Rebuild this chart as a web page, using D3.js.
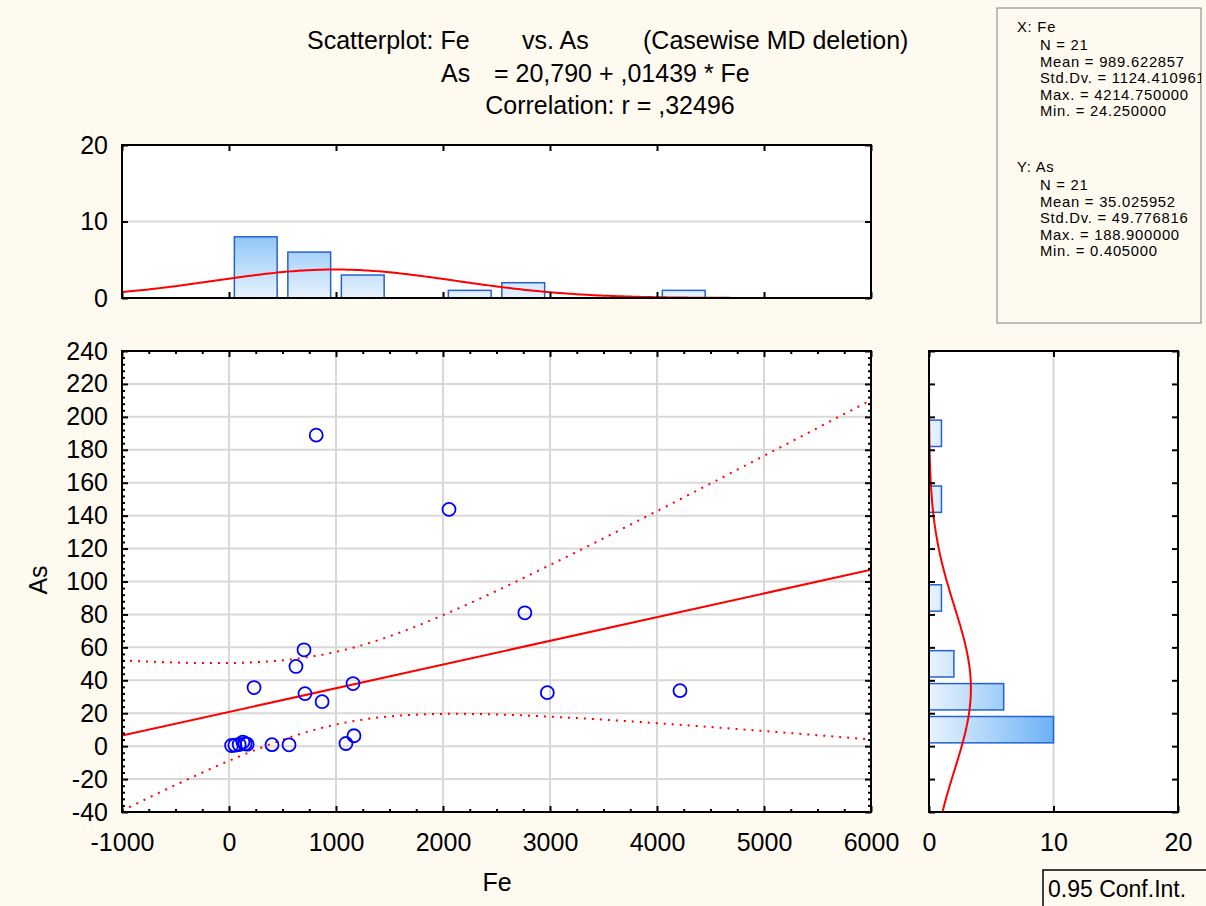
<!DOCTYPE html>
<html><head><meta charset="utf-8">
<script src="https://cdn.jsdelivr.net/npm/d3@7"></script>
<style>
body{margin:0;background:#fffaf0}
svg{display:block}
text{font-family:"Liberation Sans",Arial,sans-serif;fill:#000}
</style>
</head><body><svg id="c" width="1206" height="906"></svg>
<script>
// ---------- data ----------
const feValues = [24.25, 55, 95, 130, 150, 170, 234, 402, 561, 626, 701, 710, 815, 870, 1093, 1159, 1168, 2056, 2765, 2975, 4214.75];
const asValues = [0.405, 0.6, 1.0, 2.5, 1.5, 1.2, 35.6, 0.9, 0.8, 48.4, 58.5, 31.9, 188.9, 27.0, 1.6, 38.0, 6.3, 143.8, 81.0, 32.5, 33.7];
const feBinStarts = [0, 500, 1000, 1500, 2000, 2500, 3000, 3500, 4000];
const feBinCounts = [8, 6, 3, 0, 1, 2, 0, 0, 1];
const feBinWidth = 500;
const asBinStarts = [0, 20, 40, 60, 80, 100, 120, 140, 160, 180];
const asBinCounts = [10, 6, 2, 0, 1, 0, 0, 1, 0, 1];
const asBinWidth = 20;
const xTicks = [-1000, 0, 1000, 2000, 3000, 4000, 5000, 6000];
const yTicks = [-40, -20, 0, 20, 40, 60, 80, 100, 120, 140, 160, 180, 200, 220, 240];
const countTicks = [0, 10, 20];
const regIntercept = 20.790, regSlope = 0.01439;
const statN = 21, feMean = 989.622857, feSd = 1124.41096, asMean = 35.025952, asSd = 49.776816, corrR = 0.32496;
const tCrit = 2.093;
const titleLine1 = ["Scatterplot: Fe", "vs. As", "(Casewise MD deletion)"];
const titleLine2 = ["As", "= 20,790 + ,01439 * Fe"];
const titleLine3 = "Correlation: r = ,32496";
const statsX = ["X:  Fe", "N = 21", "Mean = 989.622857", "Std.Dv. = 1124.410961", "Max. = 4214.750000", "Min. = 24.250000"];
const statsY = ["Y:  As", "N = 21", "Mean = 35.025952", "Std.Dv. = 49.776816", "Max. = 188.900000", "Min. = 0.405000"];
const xLabel = "Fe", yLabel = "As", ciLabel = "0.95 Conf.Int.";

// ---------- layout ----------
const svg = d3.select("#c");
const M = {l: 122, r: 871, t: 351, b: 812};
const TH = {t: 145, b: 298};
const RH = {l: 929, r: 1178};
const x = d3.scaleLinear([-1000, 6000], [M.l, M.r]);
const y = d3.scaleLinear([-40, 240], [M.b, M.t]);
const ty = d3.scaleLinear([0, 20], [TH.b, TH.t]);
const rx = d3.scaleLinear([0, 20], [RH.l, RH.r]);
const gridCol = "#d8d8d8";
const fs = 25;
const fmt = d => String(d);

svg.append("rect").attr("width", 1206).attr("height", 906).attr("fill", "#fffaf0");
const defs = svg.append("defs");
function clip(id, x0, y0, w, h) {
  defs.append("clipPath").attr("id", id).append("rect").attr("x", x0).attr("y", y0).attr("width", w).attr("height", h);
}
clip("cm", M.l, M.t, M.r - M.l, M.b - M.t);
clip("ct", M.l, TH.t, M.r - M.l, TH.b - TH.t);
clip("cr", RH.l, M.t, RH.r - RH.l, M.b - M.t);
clip("cs", 997, 8, 204, 315);

const gt = defs.append("linearGradient").attr("id", "gt").attr("gradientUnits", "userSpaceOnUse")
  .attr("x1", 0).attr("x2", 0).attr("y1", ty(0)).attr("y2", ty(8.5));
gt.append("stop").attr("offset", 0).attr("stop-color", "#e8f3fe");
gt.append("stop").attr("offset", 1).attr("stop-color", "#8cc4f7");
const gr = defs.append("linearGradient").attr("id", "gr").attr("gradientUnits", "userSpaceOnUse")
  .attr("y1", 0).attr("y2", 0).attr("x1", rx(0)).attr("x2", rx(10));
gr.append("stop").attr("offset", 0).attr("stop-color", "#e8f3fe");
gr.append("stop").attr("offset", 1).attr("stop-color", "#6cb3f5");

// ---------- panels ----------
function panel(x0, y0, x1, y1) {
  svg.append("rect").attr("x", x0).attr("y", y0).attr("width", x1 - x0).attr("height", y1 - y0).attr("fill", "#fff");
}
panel(M.l, M.t, M.r, M.b);
panel(M.l, TH.t, M.r, TH.b);
panel(RH.l, M.t, RH.r, M.b);

// grids
const grid = svg.append("g").attr("stroke", gridCol).attr("stroke-width", 2);
grid.selectAll(".gx").data(xTicks.filter(d => d > -1000 && d < 6000)).join("line")
  .attr("x1", d => x(d)).attr("x2", d => x(d)).attr("y1", M.t).attr("y2", M.b);
grid.selectAll(".gy").data(yTicks.filter(d => d > -40 && d < 240)).join("line")
  .attr("x1", M.l).attr("x2", M.r).attr("y1", d => y(d)).attr("y2", d => y(d));
grid.append("line").attr("x1", M.l).attr("x2", M.r).attr("y1", ty(10)).attr("y2", ty(10));
grid.append("line").attr("x1", rx(10)).attr("x2", rx(10)).attr("y1", M.t).attr("y2", M.b);

// ---------- top histogram ----------
const gTop = svg.append("g").attr("clip-path", "url(#ct)");
const fePairs = feBinStarts.map((s, i) => ({s, c: feBinCounts[i]})).filter(d => d.c > 0);
gTop.selectAll("rect").data(fePairs).join("rect")
  .attr("x", d => x(d.s + feBinWidth * 0.1)).attr("width", d => x(d.s + feBinWidth * 0.9) - x(d.s + feBinWidth * 0.1))
  .attr("y", d => ty(d.c)).attr("height", d => ty(0) - ty(d.c))
  .attr("fill", "url(#gt)").attr("stroke", "#2462d2").attr("stroke-width", 1.5);
const normFe = v => statN * feBinWidth / (feSd * Math.sqrt(2 * Math.PI)) * Math.exp(-0.5 * ((v - feMean) / feSd) ** 2);
const feCurve = d3.range(-1000, 6001, 25);
gTop.append("path").attr("d", d3.line().x(v => x(v)).y(v => ty(normFe(v)))(feCurve))
  .attr("fill", "none").attr("stroke", "#ff0000").attr("stroke-width", 2);

// ---------- right histogram ----------
const gR = svg.append("g").attr("clip-path", "url(#cr)");
const asPairs = asBinStarts.map((s, i) => ({s, c: asBinCounts[i]})).filter(d => d.c > 0);
gR.selectAll("rect").data(asPairs).join("rect")
  .attr("y", d => y(d.s + asBinWidth * 0.9)).attr("height", d => y(d.s + asBinWidth * 0.1) - y(d.s + asBinWidth * 0.9))
  .attr("x", rx(0)).attr("width", d => rx(d.c) - rx(0))
  .attr("fill", "url(#gr)").attr("stroke", "#2462d2").attr("stroke-width", 1.5);
const normAs = v => statN * asBinWidth / (asSd * Math.sqrt(2 * Math.PI)) * Math.exp(-0.5 * ((v - asMean) / asSd) ** 2);
const asCurve = d3.range(-40, 240.1, 2);
gR.append("path").attr("d", d3.line().x(v => rx(normAs(v))).y(v => y(v))(asCurve))
  .attr("fill", "none").attr("stroke", "#ff0000").attr("stroke-width", 2);

// ---------- main scatter ----------
const gM = svg.append("g").attr("clip-path", "url(#cm)");
const Sxx = (statN - 1) * feSd * feSd;
const sRes = asSd * Math.sqrt((1 - corrR * corrR) * (statN - 1) / (statN - 2));
const fit = v => regIntercept + regSlope * v;
const half = v => tCrit * sRes * Math.sqrt(1 / statN + (v - feMean) ** 2 / Sxx);
const band = d3.range(-1000, 6001, 25);
gM.append("path").attr("d", d3.line().x(v => x(v)).y(v => y(fit(v) + half(v)))(band))
  .attr("fill", "none").attr("stroke", "#ff0000").attr("stroke-width", 2).attr("stroke-dasharray", "2 6");
gM.append("path").attr("d", d3.line().x(v => x(v)).y(v => y(fit(v) - half(v)))(band))
  .attr("fill", "none").attr("stroke", "#ff0000").attr("stroke-width", 2).attr("stroke-dasharray", "2 6");
gM.append("line").attr("x1", x(-1000)).attr("x2", x(6000)).attr("y1", y(fit(-1000))).attr("y2", y(fit(6000)))
  .attr("stroke", "#ff0000").attr("stroke-width", 2);
gM.selectAll("circle").data(feValues.map((f, i) => [f, asValues[i]])).join("circle")
  .attr("cx", d => x(d[0])).attr("cy", d => y(d[1])).attr("r", 6.5)
  .attr("fill", "none").attr("stroke", "#0000ff").attr("stroke-width", 1.8);

// ---------- axes ----------
function styleAxis(g) {
  g.select(".domain").remove();
  g.selectAll(".tick line").attr("stroke", "#000").attr("stroke-width", 2);
  g.selectAll("text").attr("font-size", fs).attr("font-family", "Liberation Sans, Arial, sans-serif");
}
const xMinor = d3.range(-1000, 6001, 250).filter(v => v % 1000 !== 0);
const yMinor = d3.range(-40, 241, 4).filter(v => v % 20 !== 0);
// main
svg.append("g").attr("transform", `translate(0,${M.b})`).call(d3.axisBottom(x).tickValues(xMinor).tickSize(-3).tickFormat("")).call(styleAxis);
svg.append("g").attr("transform", `translate(0,${M.b})`).call(d3.axisBottom(x).tickValues(xTicks).tickSize(-6).tickPadding(21).tickFormat(fmt)).call(styleAxis);
svg.append("g").attr("transform", `translate(0,${M.t})`).call(d3.axisTop(x).tickValues(xMinor).tickSize(-3).tickFormat("")).call(styleAxis);
svg.append("g").attr("transform", `translate(0,${M.t})`).call(d3.axisTop(x).tickValues(xTicks).tickSize(-6).tickFormat("")).call(styleAxis);
svg.append("g").attr("transform", `translate(${M.l},0)`).call(d3.axisLeft(y).tickValues(yMinor).tickSize(-3).tickFormat("")).call(styleAxis);
svg.append("g").attr("transform", `translate(${M.l},0)`).call(d3.axisLeft(y).tickValues(yTicks).tickSize(-6).tickPadding(14).tickFormat(fmt)).call(styleAxis);
svg.append("g").attr("transform", `translate(${M.r},0)`).call(d3.axisRight(y).tickValues(yMinor).tickSize(-3).tickFormat("")).call(styleAxis);
svg.append("g").attr("transform", `translate(${M.r},0)`).call(d3.axisRight(y).tickValues(yTicks).tickSize(-6).tickFormat("")).call(styleAxis);
// top hist
svg.append("g").attr("transform", `translate(0,${TH.b})`).call(d3.axisBottom(x).tickValues(xTicks).tickSize(-6).tickFormat("")).call(styleAxis);
svg.append("g").attr("transform", `translate(0,${TH.t})`).call(d3.axisTop(x).tickValues(xTicks).tickSize(-6).tickFormat("")).call(styleAxis);
svg.append("g").attr("transform", `translate(${M.l},0)`).call(d3.axisLeft(ty).tickValues(countTicks).tickSize(-6).tickPadding(14).tickFormat(fmt)).call(styleAxis);
svg.append("g").attr("transform", `translate(${M.r},0)`).call(d3.axisRight(ty).tickValues(countTicks).tickSize(-6).tickFormat("")).call(styleAxis);
// right hist
svg.append("g").attr("transform", `translate(${RH.l},0)`).call(d3.axisLeft(y).tickValues(yTicks).tickSize(-6).tickFormat("")).call(styleAxis);
svg.append("g").attr("transform", `translate(${RH.r},0)`).call(d3.axisRight(y).tickValues(yTicks).tickSize(-6).tickFormat("")).call(styleAxis);
svg.append("g").attr("transform", `translate(0,${M.b})`).call(d3.axisBottom(rx).tickValues(countTicks).tickSize(-6).tickPadding(21).tickFormat(fmt)).call(styleAxis);
svg.append("g").attr("transform", `translate(0,${M.t})`).call(d3.axisTop(rx).tickValues(countTicks).tickSize(-6).tickFormat("")).call(styleAxis);

// frames
function frame(x0, y0, x1, y1) {
  svg.append("rect").attr("x", x0).attr("y", y0).attr("width", x1 - x0).attr("height", y1 - y0)
    .attr("fill", "none").attr("stroke", "#000").attr("stroke-width", 2);
}
frame(M.l, M.t, M.r, M.b);
frame(M.l, TH.t, M.r, TH.b);
frame(RH.l, M.t, RH.r, M.b);

// ---------- titles & labels ----------
const t1x = [307, 522, 643];
svg.append("text").attr("y", 49).attr("font-size", fs)
  .selectAll("tspan").data(titleLine1).join("tspan").attr("x", (d, i) => t1x[i]).text(d => d);
const t2x = [441, 494];
svg.append("text").attr("y", 82).attr("font-size", fs)
  .selectAll("tspan").data(titleLine2).join("tspan").attr("x", (d, i) => t2x[i]).text(d => d);
svg.append("text").attr("x", 610).attr("y", 114).attr("font-size", fs).attr("text-anchor", "middle").text(titleLine3);

svg.append("text").attr("x", 497).attr("y", 891).attr("font-size", fs).attr("text-anchor", "middle").text(xLabel);
svg.append("text").attr("transform", "translate(47,580) rotate(-90)").attr("font-size", fs).attr("text-anchor", "middle").text(yLabel);

// stats box
svg.append("rect").attr("x", 997).attr("y", 8).attr("width", 204).attr("height", 315)
  .attr("fill", "#fffaf0").attr("stroke", "#808080").attr("stroke-width", 1);
const gs = svg.append("g").attr("clip-path", "url(#cs)");
function statBlock(lines, top) {
  lines.forEach((s, i) => {
    gs.append("text").attr("x", i === 0 ? 1017 : 1040).attr("y", top + (i === 0 ? 0 : 18 + (i - 1) * 16.6))
      .attr("font-size", 14.8).attr("letter-spacing", 0.75).text(s);
  });
}
statBlock(statsX, 32);
statBlock(statsY, 172);

// conf int box
svg.append("rect").attr("x", 1043).attr("y", 870).attr("width", 200).attr("height", 60)
  .attr("fill", "#fffaf0").attr("stroke", "#000").attr("stroke-width", 1.5);
svg.append("text").attr("x", 1048).attr("y", 897).attr("font-size", 23).text(ciLabel);
</script>
</body></html>
